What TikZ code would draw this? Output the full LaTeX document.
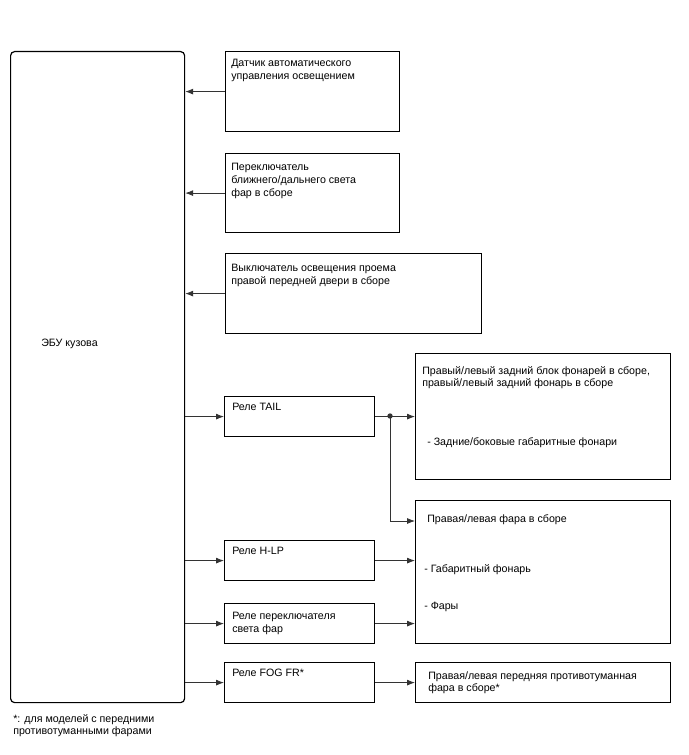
\documentclass[tikz,border=0pt]{standalone}
\usepackage{fontspec}
\setmainfont{Liberation Sans}
\usetikzlibrary{arrows.meta}
\tikzset{
  blk/.style={draw, line width=0.9pt, inner sep=0pt, anchor=north west},
  txt/.style={anchor=north west, align=left, inner sep=0pt, font=\fontsize{8}{9.6}\selectfont},
  conn/.style={line width=0.6pt, black!80, -{Latex[length=6pt,width=4.5pt]}},
}
\begin{document}
\begin{tikzpicture}[x=0.75pt, y=-0.75pt]
\useasboundingbox (0,0) rectangle (688,755);
% ECU
\node[blk, rounded corners=3pt, minimum width=130.5pt, minimum height=488.25pt] (ecu) at (10,51) {};
\node[txt] (ecutxt) at (41,339) {ЭБУ кузова};
% inputs
\node[blk, minimum width=130.5pt, minimum height=60pt] (sensor) at (225,51) {};
\node[txt] (sensortxt) at (231,59) {Датчик автоматического\\управления освещением};
\node[blk, minimum width=130.5pt, minimum height=59.25pt] (dimsw) at (225,153) {};
\node[txt] (dimswtxt) at (231,163) {Переключатель\\ближнего/дальнего света\\фар в сборе};
\node[blk, minimum width=192pt, minimum height=60pt] (doorsw) at (225,253) {};
\node[txt] (doorswtxt) at (231,264) {Выключатель освещения проема\\правой передней двери в сборе};
% relays
\node[blk, minimum width=112.5pt, minimum height=30pt] (tail) at (224,396) {};
\node[txt] (tailtxt) at (232,403) {Реле TAIL};
\node[blk, minimum width=112.5pt, minimum height=30pt] (hlp) at (224,540) {};
\node[txt] (hlptxt) at (232,547) {Реле H-LP};
\node[blk, minimum width=112.5pt, minimum height=30pt] (dimrly) at (224,603) {};
\node[txt] (dimrlytxt) at (232,612) {Реле переключателя\\света фар};
\node[blk, minimum width=112.5pt, minimum height=30pt] (fog) at (224,662) {};
\node[txt] (fogtxt) at (232,669) {Реле FOG FR*};
% lamps
\node[blk, minimum width=191.25pt, minimum height=94.5pt] (rear) at (415,353) {};
\node[txt] (reartxt) at (422,366) {Правый/левый задний блок фонарей в сборе,\\правый/левый задний фонарь в сборе};
\node[txt] (reartxt2) at (427,437) {- Задние/боковые габаритные фонари};
\node[blk, minimum width=191.25pt, minimum height=107.25pt] (head) at (415,500) {};
\node[txt] (headtxt) at (427,514) {Правая/левая фара в сборе};
\node[txt] (headtxt2) at (424,564) {- Габаритный фонарь};
\node[txt] (headtxt3) at (424,602) {- Фары};
\node[blk, minimum width=191.25pt, minimum height=30pt] (foglmp) at (415,662) {};
\node[txt] (foglmptxt) at (428,671) {Правая/левая передняя противотуманная\\фара в сборе*};
\node[txt] (note) at (13,714) {*: для моделей с передними\\противотуманными фарами};
% connections
\draw[conn] (sensor.west) -- (sensor.west -| ecu.east);
\draw[conn] (dimsw.west) -- (dimsw.west -| ecu.east);
\draw[conn] (doorsw.west) -- (doorsw.west -| ecu.east);
\draw[conn] (tail.west -| ecu.east) -- (tail.west);
\draw[conn] (hlp.west -| ecu.east) -- (hlp.west);
\draw[conn] (dimrly.west -| ecu.east) -- (dimrly.west);
\draw[conn] (fog.west -| ecu.east) -- (fog.west);
\coordinate (split) at (390,416);
\draw[conn] (tail.east) -- (tail.east -| rear.west);
\fill[black!80] (split) circle (2pt);
\draw[conn] (split) |- (head.west |- 0,521);
\draw[conn] (hlp.east) -- (hlp.east -| head.west);
\draw[conn] (dimrly.east) -- (dimrly.east -| head.west);
\draw[conn] (fog.east) -- (fog.east -| foglmp.west);
\end{tikzpicture}
\end{document}
